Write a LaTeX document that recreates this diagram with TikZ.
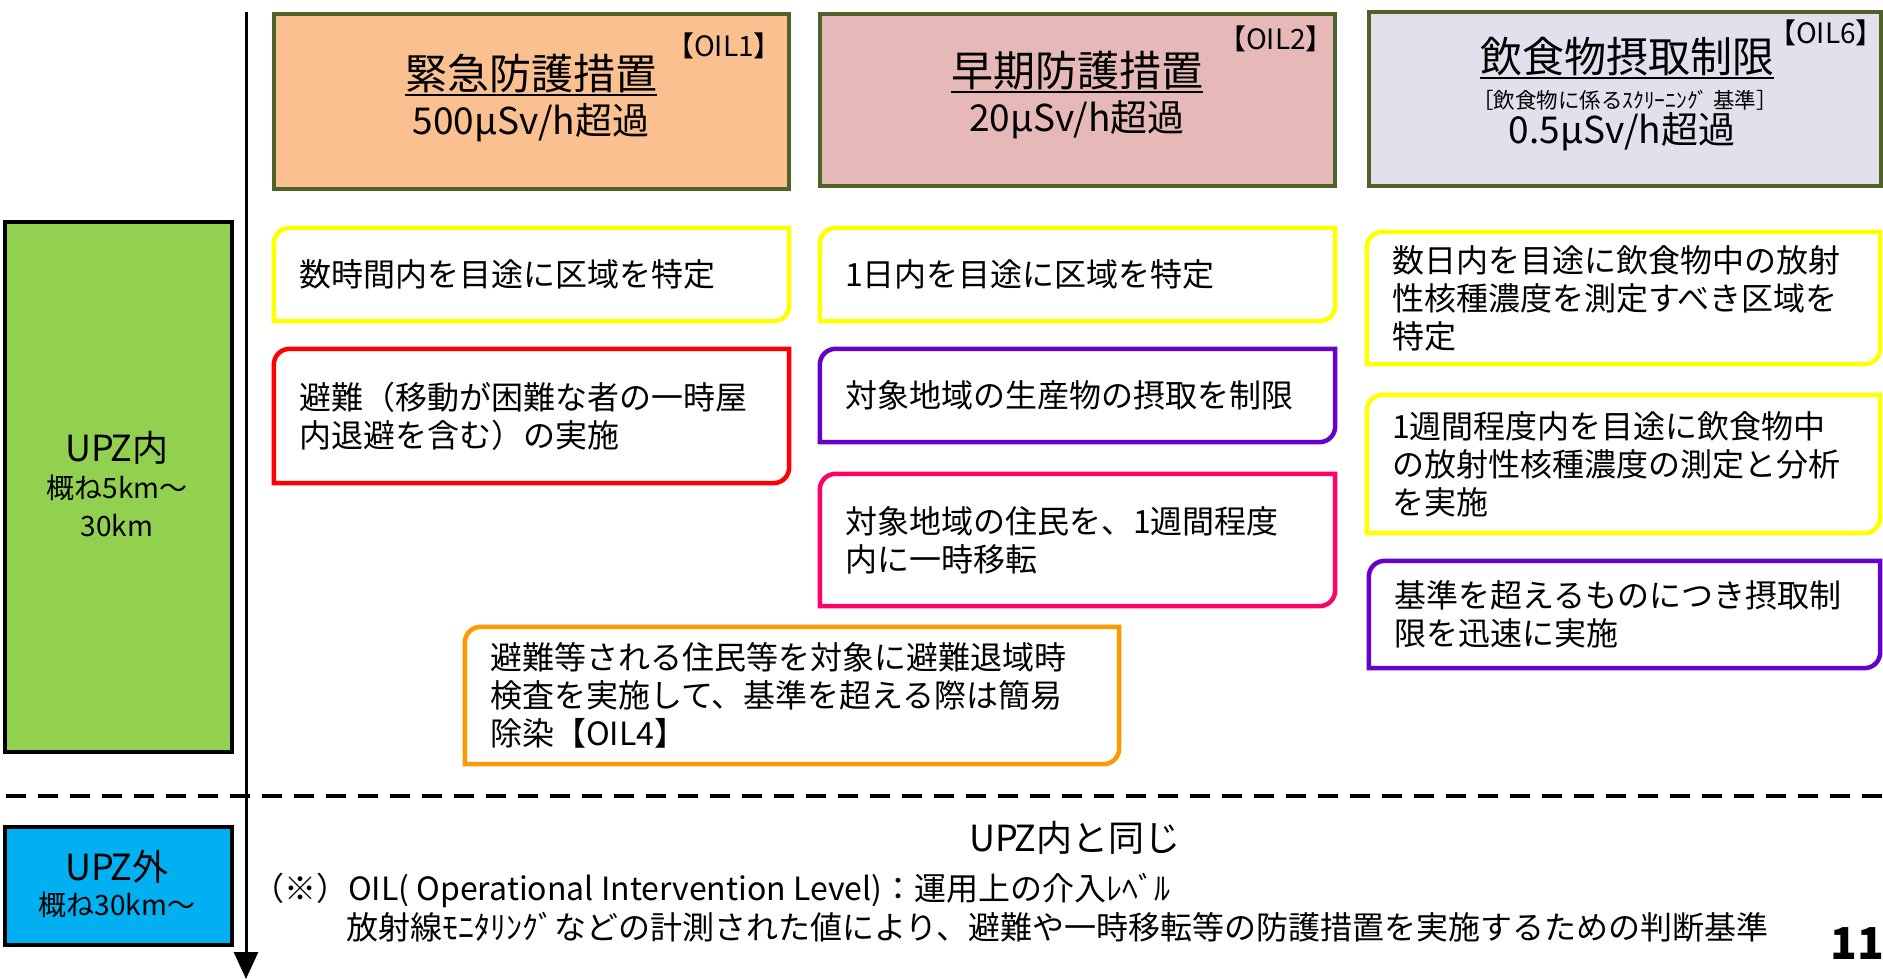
\documentclass[tikz,border=0pt]{standalone}
\usepackage{fontspec}
\setmainfont{Noto Sans CJK JP}
\usetikzlibrary{arrows.meta}
\definecolor{hdrline}{HTML}{4F6228}
\definecolor{oilone}{HTML}{FAC090}
\definecolor{oiltwo}{HTML}{E6B9B8}
\definecolor{oilsix}{HTML}{E4DFEC}
\definecolor{upzin}{HTML}{92D050}
\definecolor{upzout}{HTML}{00B0F0}
\definecolor{fyellow}{HTML}{FFFF00}
\definecolor{fred}{HTML}{FF0000}
\definecolor{fpurple}{HTML}{6600CC}
\definecolor{fpink}{HTML}{FF0066}
\definecolor{forange}{HTML}{FF9900}

\newcommand\ulx[1]{\setbox0\hbox{#1}\rlap{\rule[-7pt]{\wd0}{2.2pt}}\box0}

\newcommand\diagframe[2]{%
 \draw[frame,draw=#2] (#1.south west) -- ([yshift=-16pt]#1.north west)
   .. controls ([yshift=-7pt]#1.north west) and ([xshift=7pt]#1.north west) .. ([xshift=16pt]#1.north west)
   -- (#1.north east) -- ([yshift=16pt]#1.south east)
   .. controls ([yshift=7pt]#1.south east) and ([xshift=-7pt]#1.south east) .. ([xshift=-16pt]#1.south east)
   -- cycle;}

\newcommand\bodybox[7]{%
 \pgfmathsetmacro\bw{#4-#2}\pgfmathsetmacro\bh{#5-#3}\pgfmathsetmacro\bt{#4-#2-50}%
 \node[body, minimum width=\bw pt, minimum height=\bh pt, text width=\bt pt] (#1) at ({(#2+#4)/2},{(#3+#5)/2}) {#7};
 \diagframe{#1}{#6}}

\tikzset{
  body/.style={rectangle, inner xsep=25pt, inner ysep=0pt, align=left, font=\fontsize{32}{38}\selectfont},
  frame/.style={line width=4.5pt, line join=miter},
  hdr/.style={draw=hdrline, line width=4.5pt, inner sep=0pt},
  lbox/.style={draw=black, line width=3.5pt, inner sep=0pt},
  htitle/.style={inner sep=0pt, font=\fontsize{42}{48}\selectfont},
  hval/.style={inner sep=0pt, font=\fontsize{37}{42}\selectfont},
  htag/.style={inner sep=0pt, font=\fontsize{28}{32}\selectfont},
  hsub/.style={inner sep=0pt, font=\fontsize{21.5}{25}\selectfont},
  zbig/.style={inner sep=0pt, font=\fontsize{36}{40}\selectfont},
  zsmall/.style={inner sep=0pt, align=center, font=\fontsize{28}{38}\selectfont},
  note/.style={inner sep=0pt, font=\fontsize{32}{36}\selectfont},
}

\begin{document}
\begin{tikzpicture}[x=1pt,y=-1pt]
\useasboundingbox (0,0) rectangle (1883,980);
\fill[white] (0,0) rectangle (1883,980);

% left zone boxes
\node[lbox, fill=upzin, minimum width=227pt, minimum height=530pt] (gin) at (118.5,487) {};
\node[zbig] (ginT) at (117,448) {UPZ内};
\node[zsmall] (ginD) at (117,506) {概ね5km～\\30km};
\node[lbox, fill=upzout, minimum width=227pt, minimum height=118pt] (gout) at (118.5,886) {};
\node[zbig] (goutT) at (117,867) {UPZ外};
\node[zsmall] (goutD) at (117,905) {概ね30km～};

% separator and time axis
\coordinate (dashL) at (6,796);
\coordinate (dashR) at (1883,796);
\draw[line width=3.5pt, dash pattern=on 20pt off 12pt] (dashL) -- (dashR);
\coordinate (axTop) at (246,12);
\coordinate (axBot) at (246,979);
\draw[line width=3pt, -{Triangle[width=24pt,length=27pt]}] (axTop) -- (axBot);

% headers
\node[hdr, fill=oilone, minimum width=515pt, minimum height=175pt] (h1) at (531.5,101.5) {};
\node[htitle] (t1) at (531,75) {\ulx{緊急防護措置}};
\node[hval] (v1) at (531,123) {500μSv/h超過};
\node[htag] (o1) at (724,46) {【OIL1】};

\node[hdr, fill=oiltwo, minimum width=515pt, minimum height=172pt] (h2) at (1077.5,100) {};
\node[htitle] (t2) at (1077,72) {\ulx{早期防護措置}};
\node[hval] (v2) at (1077,120) {20μSv/h超過};
\node[htag] (o2) at (1276,39) {【OIL2】};

\node[hdr, fill=oilsix, minimum width=512pt, minimum height=174pt] (h6) at (1625,99) {};
\node[htitle] (t6) at (1627,58) {\ulx{飲食物摂取制限}};
\node[hsub] (s6) at (1625,100) {［飲食物に係るｽｸﾘｰﾆﾝｸﾞ 基準］};
\node[hval] (v6) at (1622,132) {0.5μSv/h超過};
\node[htag] (o6) at (1826,33) {【OIL6】};

% body boxes
\bodybox{ya}{274}{228}{789}{321}{fyellow}{数時間内を目途に区域を特定}
\bodybox{yb}{820}{228}{1335}{321}{fyellow}{1日内を目途に区域を特定}
\bodybox{yc}{1367}{232}{1880}{364}{fyellow}{数日内を目途に飲食物中の放射\\性核種濃度を測定すべき区域を\\特定}
\bodybox{ra}{274}{349}{789}{483}{fred}{避難（移動が困難な者の一時屋\\内退避を含む）の実施}
\bodybox{pa}{820}{349}{1335}{442}{fpurple}{対象地域の生産物の摂取を制限}
\bodybox{ka}{820}{474}{1335}{606}{fpink}{対象地域の住民を、1週間程度\\内に一時移転}
\bodybox{yd}{1367}{395}{1880}{533}{fyellow}{1週間程度内を目途に飲食物中\\の放射性核種濃度の測定と分析\\を実施}
\bodybox{pb}{1369}{561}{1880}{668}{fpurple}{基準を超えるものにつき摂取制\\限を迅速に実施}
\bodybox{oa}{465}{627}{1119}{764}{forange}{避難等される住民等を対象に避難退域時\\検査を実施して、基準を超える際は簡易\\除染【OIL4】}

% bottom texts
\node[inner sep=0pt, font=\fontsize{36}{40}\selectfont] (same) at (1075,838) {UPZ内と同じ};
\node[note, anchor=west] (n1) at (252,890) {（※）OIL( Operational Intervention Level)：運用上の介入ﾚﾍﾞﾙ};
\node[note, anchor=west] (n2) at (346,927) {放射線ﾓﾆﾀﾘﾝｸﾞなどの計測された値により、避難や一時移転等の防護措置を実施するための判断基準};
\node[inner sep=0pt, font=\fontsize{44}{48}\selectfont\bfseries] (pg) at (1857,944) {11};
\end{tikzpicture}
\end{document}
